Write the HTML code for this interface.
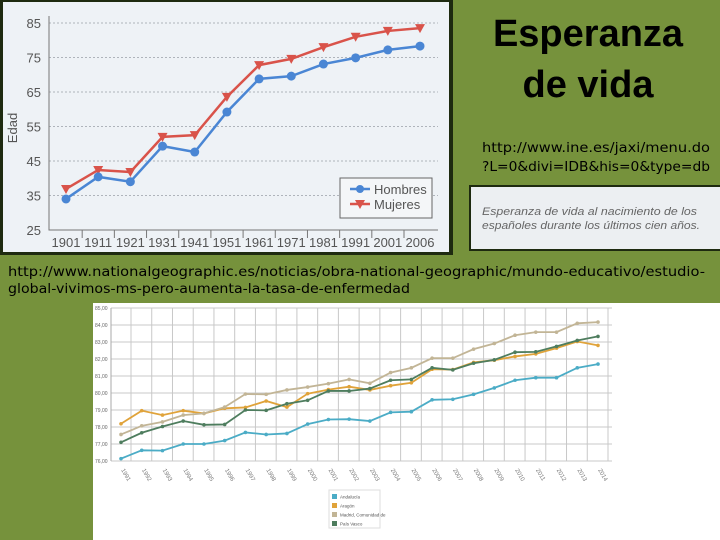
<!DOCTYPE html>
<html><head><meta charset="utf-8"><style>
html,body{margin:0;padding:0;background:#76923c;}
svg{display:block;}
</style></head><body>
<svg id="s" width="720" height="540" xmlns="http://www.w3.org/2000/svg">
<rect x="0" y="0" width="720" height="540" fill="#76923c"/>
<!-- top chart image -->
<rect x="0" y="0" width="453" height="255" fill="#1e2a10"/>
<rect x="3" y="2" width="446" height="250" fill="#eef2f6"/>
<g id="top"></g>
<!-- title -->
<text x="588" y="46" font-family="Liberation Sans, sans-serif" font-weight="bold" font-size="38" text-anchor="middle" fill="#000">Esperanza</text>
<text x="588" y="97" font-family="Liberation Sans, sans-serif" font-weight="bold" font-size="38" text-anchor="middle" fill="#000">de vida</text>
<text x="482" y="152" font-family="DejaVu Sans, sans-serif" font-size="13" textLength="228" lengthAdjust="spacingAndGlyphs" fill="#000">http://www.ine.es/jaxi/menu.do</text>
<text x="482" y="171" font-family="DejaVu Sans, sans-serif" font-size="13" textLength="228" lengthAdjust="spacingAndGlyphs" fill="#000">?L=0&amp;divi=IDB&amp;his=0&amp;type=db</text>
<rect x="469" y="185" width="251" height="66" fill="#1e2a10"/>
<rect x="471" y="187" width="249" height="62" fill="#eceff2"/>
<text x="482" y="215" font-family="Liberation Sans, sans-serif" font-style="italic" font-size="11" fill="#666" textLength="215" lengthAdjust="spacingAndGlyphs">Esperanza de vida al nacimiento de los</text>
<text x="482" y="229" font-family="Liberation Sans, sans-serif" font-style="italic" font-size="11" fill="#666" textLength="218" lengthAdjust="spacingAndGlyphs">españoles durante los últimos cien años.</text>
<text x="8" y="276" font-family="DejaVu Sans, sans-serif" font-size="13.5" textLength="697" lengthAdjust="spacingAndGlyphs" fill="#000">http://www.nationalgeographic.es/noticias/obra-national-geographic/mundo-educativo/estudio-</text>
<text x="8" y="293" font-family="DejaVu Sans, sans-serif" font-size="13.5" textLength="402" lengthAdjust="spacingAndGlyphs" fill="#000">global-vivimos-ms-pero-aumenta-la-tasa-de-enfermedad</text>
<rect x="93" y="303" width="627" height="237" fill="#ffffff"/>
<g id="bot"></g>
</svg>
<script>
const NS="http://www.w3.org/2000/svg";
function mk(p,t,a){const e=document.createElementNS(NS,t);for(const k in a)e.setAttribute(k,a[k]);p.appendChild(e);return e;}

// ---- top chart data ----
const topYears=["1901","1911","1921","1931","1941","1951","1961","1971","1981","1991","2001","2006"];
const hombres=[34.0,40.4,39.0,49.3,47.6,59.2,68.8,69.6,73.1,74.9,77.2,78.3];
const mujeres=[36.9,42.4,41.8,52.0,52.5,63.6,72.8,74.6,78.0,81.0,82.7,83.5];
const topTicks=[25,35,45,55,65,75,85];
const topTickLabels=["25","35","45","55","65","75","85"];

// ---- bottom chart data ----
const botYears=["1991","1992","1993","1994","1995","1996","1997","1998","1999","2000","2001","2002","2003","2004","2005","2006","2007","2008","2009","2010","2011","2012","2013","2014"];
const andalucia=[76.14,76.63,76.61,77.0,77.0,77.2,77.68,77.56,77.62,78.17,78.44,78.46,78.35,78.86,78.9,79.6,79.63,79.92,80.3,80.75,80.9,80.9,81.48,81.7];
const aragon=[78.19,78.96,78.7,78.96,78.8,79.1,79.15,79.53,79.17,79.96,80.2,80.37,80.18,80.43,80.6,81.4,81.38,81.8,81.93,82.15,82.3,82.64,83.03,82.8];
const madrid=[77.56,78.07,78.3,78.7,78.8,79.17,79.94,79.92,80.18,80.35,80.55,80.8,80.57,81.2,81.48,82.05,82.05,82.58,82.91,83.4,83.58,83.58,84.1,84.17];
const paisVasco=[77.1,77.66,78.03,78.35,78.13,78.15,79.0,78.98,79.37,79.57,80.12,80.12,80.26,80.75,80.8,81.48,81.36,81.75,81.95,82.4,82.42,82.74,83.09,83.33];
const botTicks=[76,77,78,79,80,81,82,83,84,85];
const botTickLabels=["76,00","77,00","78,00","79,00","80,00","81,00","82,00","83,00","84,00","85,00"];
const botSeriesNames=["Andalucía","Aragón","Madrid, Comunidad de","País Vasco"];

// top chart
(function(){
  const g=document.getElementById('top');
  const x0=66,x1=420,yB=230,yT=23;
  const X=i=>x0+i*(x1-x0)/(topYears.length-1);
  const Y=v=>yB-(v-25)*(yB-yT)/60;
  topTicks.forEach((t,i)=>{
    const y=Y(t);
    if(i>0){const l=mk(g,'line',{x1:49,x2:438,y1:y,y2:y,stroke:'#9aa0a8','stroke-width':0.8,'stroke-dasharray':'2,2'});
    
    }
    const tx=mk(g,'text',{x:41,y:y+5,'text-anchor':'end','font-family':'Liberation Sans, sans-serif','font-size':13,fill:'#555'});
    tx.textContent=topTickLabels[i];
    
    
  });
  const ax=mk(g,'path',{d:`M49 16 V${yB} H438`,stroke:'#777',fill:'none','stroke-width':1});
  
  
  topYears.forEach((yr,i)=>{
    const t=mk(g,'text',{x:X(i),y:247,'text-anchor':'middle','font-family':'Liberation Sans, sans-serif','font-size':13,fill:'#555'});
    t.textContent=yr;
    
    
    if(i>0){const tk=mk(g,'line',{x1:X(i)-16,x2:X(i)-16,y1:yB,y2:yB+8,stroke:'#777'});
    
    }
  });
  const yl=mk(g,'text',{x:17,y:128,'text-anchor':'middle','font-family':'Liberation Sans, sans-serif','font-size':13,fill:'#555',transform:'rotate(-90 17 128)'});
  yl.textContent='Edad';
  
  
  const m=mk(g,'polyline',{points:mujeres.map((v,i)=>X(i)+','+Y(v)).join(' '),fill:'none',stroke:'#d9534a','stroke-width':2.5});
  
  
  const h=mk(g,'polyline',{points:hombres.map((v,i)=>X(i)+','+Y(v)).join(' '),fill:'none',stroke:'#4a86d4','stroke-width':2.5});
  
  
  mujeres.forEach((v,i)=>{const x=X(i),y=Y(v);
    const p=mk(g,'polygon',{points:`${x-5},${y-4} ${x+5},${y-4} ${x},${y+5}`,fill:'#d9534a'});
    
    });
  hombres.forEach((v,i)=>{
    const c=mk(g,'circle',{cx:X(i),cy:Y(v),r:4.5,fill:'#4a86d4'});
    
    });
  const lb=mk(g,'rect',{x:340,y:178,width:92,height:40,fill:'#f4f6f8',stroke:'#666'});
  
  
  const l1=mk(g,'line',{x1:350,x2:370,y1:189,y2:189,stroke:'#4a86d4','stroke-width':2.5});
  
  
  const c1=mk(g,'circle',{cx:360,cy:189,r:4,fill:'#4a86d4'});
  
  
  const t1=mk(g,'text',{x:374,y:194,'font-family':'Liberation Sans, sans-serif','font-size':13,fill:'#555'});t1.textContent='Hombres';
  
  
  const l2=mk(g,'line',{x1:350,x2:370,y1:204,y2:204,stroke:'#d9534a','stroke-width':2.5});
  
  
  const p2=mk(g,'polygon',{points:'355,200 365,200 360,209',fill:'#d9534a'});
  
  
  const t2=mk(g,'text',{x:374,y:209,'font-family':'Liberation Sans, sans-serif','font-size':13,fill:'#555'});t2.textContent='Mujeres';
  
  
})();

// bottom chart
(function(){
  const g=document.getElementById('bot');
  const x0=121,x1=598,yB=461,yT=308,L=111,R=612;
  const X=i=>x0+i*(x1-x0)/(botYears.length-1);
  const Y=v=>yB-(v-76)*(yB-yT)/9;
  botTicks.forEach((t,i)=>{
    const y=Y(t);
    const l=mk(g,'line',{x1:L,x2:R,y1:y,y2:y,stroke:'#c8c8c8','stroke-width':1});
    
    
    const tx=mk(g,'text',{x:95,y:y+2,'font-family':'Liberation Sans, sans-serif','font-size':5,fill:'#666'});
    tx.textContent=botTickLabels[i];
    
    
  });
  botYears.forEach((yr,i)=>{
    const x=X(i)+10;
    const l=mk(g,'line',{x1:x,x2:x,y1:yT,y2:yB,stroke:'#c8c8c8','stroke-width':1});
    
    
    const t=mk(g,'text',{x:X(i),y:470,'font-family':'Liberation Sans, sans-serif','font-size':6,fill:'#777',transform:`rotate(60 ${X(i)} 470)`});
    t.textContent=yr;
    
    
  });
  const la=mk(g,'line',{x1:L,x2:L,y1:yT,y2:yB,stroke:'#aaa'});
  
  
  const series=[[andalucia,'#4bacc6'],[aragon,'#e0a33a'],[madrid,'#c2b596'],[paisVasco,'#4e7d5e']];
  series.forEach(([d,c],k)=>{
    const pl=mk(g,'polyline',{points:d.map((v,i)=>X(i)+','+Y(v)).join(' '),fill:'none',stroke:c,'stroke-width':1.8});
    
    
    d.forEach((v,i)=>{
      const pt=mk(g,'circle',{cx:X(i),cy:Y(v),r:1.8,fill:c});
      
      
    });
  });
  const lb=mk(g,'rect',{x:329,y:490,width:51,height:38,fill:'#fff',stroke:'#ddd'});
  
  
  series.forEach(([d,c],k)=>{
    const y=494+k*9;
    const r=mk(g,'rect',{x:332,y:y,width:5,height:5,fill:c});
    
    
    const t=mk(g,'text',{x:340,y:y+4.5,'font-family':'Liberation Sans, sans-serif','font-size':4.5,fill:'#555'});
    t.textContent=botSeriesNames[k];
    
    
  });
})();
</script>
</body></html>
